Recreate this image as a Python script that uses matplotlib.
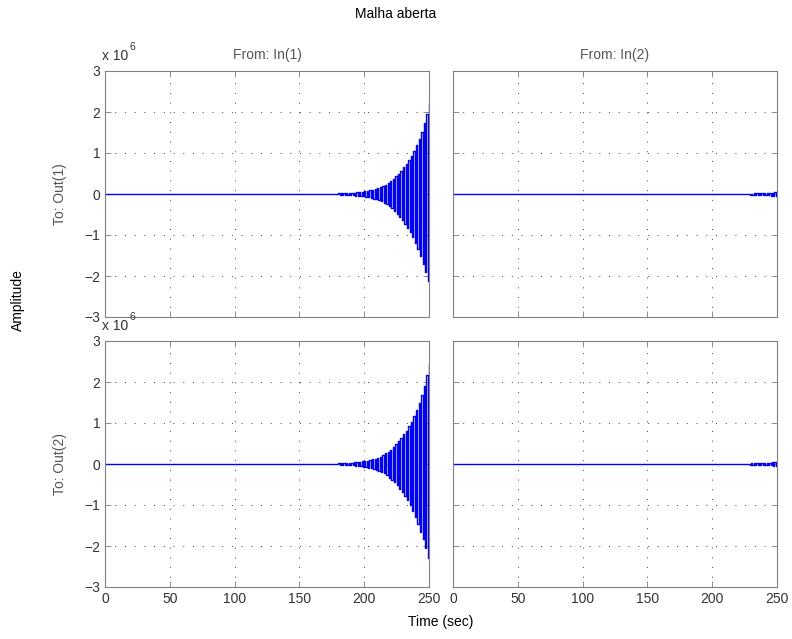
import numpy as np
import matplotlib.pyplot as plt

plt.rcParams['font.family'] = ['Liberation Sans', 'DejaVu Sans']

# discrete response, sample time 1 s; before the listed times the response sits on 0
t_end = 250
up_t_left = list(range(180, 251, 2))    # positive peaks (even samples)
lo_t_left = list(range(181, 250, 2))    # negative peaks (odd samples)
# values in units of 1e6
out1_in1_up = [0.013, 0.015, 0.018, 0.021, 0.025, 0.029, 0.034, 0.04, 0.047, 0.055, 0.065, 0.075,
               0.09, 0.10, 0.12, 0.14, 0.16, 0.19, 0.23, 0.27, 0.32, 0.37, 0.43, 0.50,
               0.57, 0.65, 0.73, 0.83, 0.93, 1.06, 1.19, 1.35, 1.52, 1.72, 1.95, 2.20]
out1_in1_lo = [0.014, 0.016, 0.019, 0.023, 0.027, 0.031, 0.037, 0.043, 0.05, 0.06, 0.07, 0.08,
               0.095, 0.11, 0.13, 0.15, 0.18, 0.21, 0.25, 0.30, 0.35, 0.41, 0.48, 0.55,
               0.63, 0.72, 0.82, 0.93, 1.05, 1.19, 1.35, 1.52, 1.70, 1.90, 2.12]
out2_in1_up = [0.014, 0.017, 0.02, 0.023, 0.028, 0.032, 0.038, 0.044, 0.052, 0.061, 0.072, 0.083,
               0.10, 0.11, 0.13, 0.155, 0.18, 0.21, 0.26, 0.30, 0.35, 0.41, 0.48, 0.55,
               0.63, 0.72, 0.81, 0.92, 1.03, 1.17, 1.32, 1.50, 1.69, 1.90, 2.16, 2.45]
out2_in1_lo = [0.015, 0.017, 0.021, 0.025, 0.029, 0.034, 0.04, 0.047, 0.054, 0.065, 0.076, 0.087,
               0.10, 0.12, 0.14, 0.16, 0.20, 0.23, 0.27, 0.33, 0.38, 0.44, 0.52, 0.60,
               0.68, 0.78, 0.89, 1.01, 1.14, 1.29, 1.46, 1.65, 1.84, 2.06, 2.30]

up_t_right = list(range(210, 251, 2))
lo_t_right = list(range(211, 250, 2))
out1_in2_up = [0.003, 0.0035, 0.004, 0.0045, 0.005, 0.006, 0.007, 0.008, 0.009, 0.01, 0.012,
               0.014, 0.016, 0.018, 0.02, 0.023, 0.026, 0.029, 0.033, 0.038, 0.043]
out1_in2_lo = [0.004, 0.0045, 0.005, 0.006, 0.007, 0.008, 0.009, 0.01, 0.012, 0.014,
               0.016, 0.018, 0.02, 0.023, 0.026, 0.03, 0.034, 0.039, 0.044, 0.05]
out2_in2_up = [0.0035, 0.004, 0.0045, 0.005, 0.006, 0.007, 0.008, 0.009, 0.01, 0.012, 0.014,
               0.016, 0.018, 0.02, 0.023, 0.026, 0.029, 0.033, 0.038, 0.043, 0.05]
out2_in2_lo = [0.0035, 0.004, 0.0045, 0.005, 0.006, 0.007, 0.008, 0.009, 0.011, 0.013,
               0.015, 0.017, 0.019, 0.022, 0.025, 0.028, 0.032, 0.036, 0.041, 0.047]

xticks = [0, 50, 100, 150, 200, 250]
yticks = [-3, -2, -1, 0, 1, 2, 3]
ytick_labels = ['\u22123', '\u22122', '\u22121', '0', '1', '2', '3']

panels = [
    (0, 0, up_t_left, out1_in1_up, lo_t_left, out1_in1_lo),
    (0, 1, up_t_right, out1_in2_up, lo_t_right, out1_in2_lo),
    (1, 0, up_t_left, out2_in1_up, lo_t_left, out2_in1_lo),
    (1, 1, up_t_right, out2_in2_up, lo_t_right, out2_in2_lo),
]

W, H = 792, 639
fig = plt.figure(figsize=(W / 100, H / 100), dpi=100)
tick_col = '#333333'
box_col = '#808080'

axes = {}
for r, c, ut, uv, lt, lv in panels:
    x0 = [105, 453][c]
    ytop = [71, 341][r]
    ax = fig.add_axes([x0 / W, 1 - (ytop + 246) / H, 324 / W, 246 / H])
    axes[(r, c)] = ax
    t = np.arange(0, t_end + 1)
    y = np.zeros(len(t))
    y[np.array(ut)] = uv
    y[np.array(lt)] = -np.array(lv)
    ax.step(t, y, where='post', color='#0000ff', lw=1.0)
    ax.set_xlim(0, 250)
    ax.set_ylim(-3, 3)
    ax.set_xticks(xticks)
    ax.set_yticks(yticks)
    ax.grid(True, color='#404040', linestyle=(0, (1, 9)), lw=0.7)
    ax.tick_params(direction='in', length=4, colors=box_col, labelcolor=tick_col,
                   labelsize=10, top=True, right=True, width=0.6)
    for s in ax.spines.values():
        s.set_color(box_col)
        s.set_linewidth(0.8)
    if c == 0:
        ax.set_yticklabels(ytick_labels)
    else:
        ax.set_yticklabels([])
    if r == 1:
        ax.set_xticklabels([str(v) for v in xticks])
    else:
        ax.set_xticklabels([])

lab_col = '#555555'
fig.text(396 / W, 1 - 14 / H, 'Malha aberta', ha='center', va='center', fontsize=10, color='black')
fig.text(267 / W, 1 - 55 / H, 'From: In(1)', ha='center', va='center', fontsize=10, color=lab_col)
fig.text(615 / W, 1 - 55 / H, 'From: In(2)', ha='center', va='center', fontsize=10, color=lab_col)
fig.text(60 / W, 1 - 194 / H, 'To: Out(1)', ha='center', va='center', rotation=90, fontsize=10, color=lab_col)
fig.text(60 / W, 1 - 464 / H, 'To: Out(2)', ha='center', va='center', rotation=90, fontsize=10, color=lab_col)
fig.text(18 / W, 1 - 300 / H, 'Amplitude', ha='center', va='center', rotation=90, fontsize=10, color='black')
fig.text(441 / W, 1 - 622 / H, 'Time (sec)', ha='center', va='center', fontsize=10, color='black')
for yy in (56, 326):
    fig.text(102 / W, 1 - yy / H, 'x 10', ha='left', va='center', fontsize=10, color=tick_col)
    fig.text(129 / W, 1 - (yy - 9) / H, '6', ha='left', va='center', fontsize=7.5, color=tick_col)

fig.savefig('out.png', dpi=100)
